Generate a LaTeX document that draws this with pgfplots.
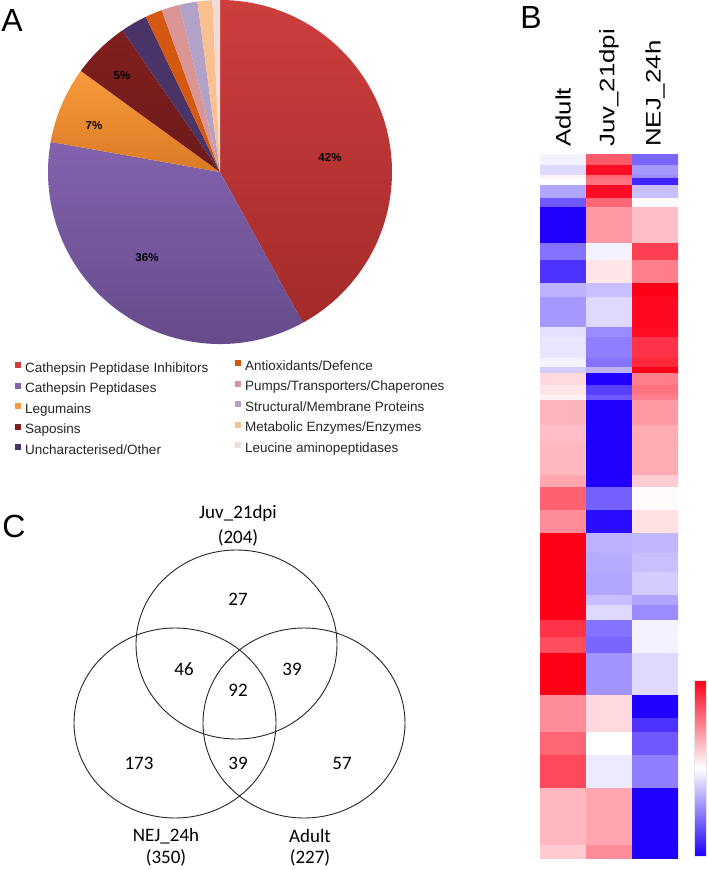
\documentclass[border=0pt]{standalone}
\usepackage{graphicx}
\usepackage{pgfplots}
\pgfplotsset{compat=1.18}
\usepackage{pgfplotstable}
\usepackage{fontspec}
\setmainfont{Liberation Sans}
\newfontfamily\venn{Carlito}

\definecolor{pRedT}{HTML}{CD3E3D}
\definecolor{pRedB}{HTML}{A32B2A}
\definecolor{pPurT}{HTML}{8262AE}
\definecolor{pPurB}{HTML}{634987}
\definecolor{pOrT}{HTML}{F89A3C}
\definecolor{pOrB}{HTML}{DA7A25}
\definecolor{pSapT}{HTML}{801F1F}
\definecolor{pSapB}{HTML}{6E1A1A}
\definecolor{pUnc}{HTML}{4A3366}
\definecolor{pAnt}{HTML}{D4580F}
\definecolor{pPump}{HTML}{DA9695}
\definecolor{pStr}{HTML}{B3A2C7}
\definecolor{pMet}{HTML}{FAC08F}
\definecolor{pLeu}{HTML}{F2DCDB}
\definecolor{legtxt}{HTML}{262626}

\pgfplotsset{colormap={bwr}{rgb255=(31,0,255) rgb255=(255,255,255) rgb255=(255,0,25)}}

\pgfplotstableread{
pct top bot
42.0 pRedT pRedB
35.8 pPurT pPurB
7.2 pOrT pOrB
5.4 pSapT pSapB
2.5 pUnc pUnc
1.6 pAnt pAnt
1.7 pPump pPump
1.7 pStr pStr
1.4 pMet pMet
0.7 pLeu pLeu
}\piedata
\pgfplotstablecreatecol[expr accum={\pgfmathaccuma + \thisrow{pct}}{0}]{cum}\piedata

% heatmap: band boundaries (pixel rows, negated) and values for Adult, Juv_21dpi, NEJ_24h
\pgfplotstableread{
x y c
0 -154 -0.05
1 -154 0.65
2 -154 -0.6
3 -154 -0.6

0 -165 -0.15
1 -165 0.95
2 -165 -0.4
3 -165 -0.4

0 -175 0.05
1 -175 0.6
2 -175 -0.45
3 -175 -0.45

0 -178 0.0
1 -178 0.55
2 -178 -0.85
3 -178 -0.85

0 -185 -0.35
1 -185 0.95
2 -185 -0.25
3 -185 -0.25

0 -198 -0.65
1 -198 0.6
2 -198 0.02
3 -198 0.02

0 -207 -1.0
1 -207 0.4
2 -207 0.25
3 -207 0.25

0 -243 -0.55
1 -243 -0.05
2 -243 0.75
3 -243 0.75

0 -260 -0.8
1 -260 0.1
2 -260 0.5
3 -260 0.5

0 -283 -0.3
1 -283 -0.25
2 -283 1.0
3 -283 1.0

0 -297 -0.4
1 -297 -0.15
2 -297 0.97
3 -297 0.97

0 -327 -0.12
1 -327 -0.45
2 -327 0.95
3 -327 0.95

0 -337 -0.1
1 -337 -0.5
2 -337 0.8
3 -337 0.8

0 -358 -0.05
1 -358 -0.55
2 -358 0.85
3 -358 0.85

0 -367 -0.2
1 -367 -0.3
2 -367 1.0
3 -367 1.0

0 -373 0.15
1 -373 -1.0
2 -373 0.5
3 -373 0.5

0 -385 0.1
1 -385 -0.75
2 -385 0.55
3 -385 0.55

0 -395 0.05
1 -395 -0.65
2 -395 0.5
3 -395 0.5

0 -400 0.3
1 -400 -1.0
2 -400 0.4
3 -400 0.4

0 -425 0.25
1 -425 -1.0
2 -425 0.33
3 -425 0.33

0 -442 0.28
1 -442 -1.0
2 -442 0.33
3 -442 0.33

0 -475 0.35
1 -475 -1.0
2 -475 0.2
3 -475 0.2

0 -487 0.62
1 -487 -0.62
2 -487 0.02
3 -487 0.02

0 -510 0.45
1 -510 -0.95
2 -510 0.12
3 -510 0.12

0 -533 1.0
1 -533 -0.3
2 -533 -0.28
3 -533 -0.28

0 -553 1.0
1 -553 -0.33
2 -553 -0.25
3 -553 -0.25

0 -572 1.0
1 -572 -0.35
2 -572 -0.2
3 -572 -0.2

0 -595 1.0
1 -595 -0.25
2 -595 -0.35
3 -595 -0.35

0 -605 1.0
1 -605 -0.15
2 -605 -0.45
3 -605 -0.45

0 -620 0.8
1 -620 -0.55
2 -620 -0.05
3 -620 -0.05

0 -637 0.7
1 -637 -0.6
2 -637 -0.05
3 -637 -0.05

0 -653 1.0
1 -653 -0.42
2 -653 -0.15
3 -653 -0.15

0 -695 0.45
1 -695 0.15
2 -695 -1.0
3 -695 -1.0

0 -718 0.45
1 -718 0.15
2 -718 -0.8
3 -718 -0.8

0 -732 0.6
1 -732 0.0
2 -732 -0.65
3 -732 -0.65

0 -755 0.72
1 -755 -0.08
2 -755 -0.5
3 -755 -0.5

0 -788 0.28
1 -788 0.35
2 -788 -1.0
3 -788 -1.0

0 -845 0.2
1 -845 0.45
2 -845 -1.0
3 -845 -1.0

0 -858 0
1 -858 0
2 -858 0
3 -858 0
}\heatdata

\pgfplotstableread{
x y n
238 -599 27
184 -669 46
292 -669 39
238 -690 92
139 -763 173
238 -763 39
342 -763 57
}\venndata

\begin{document}
\begin{tikzpicture}
\path[use as bounding box] (0,0) rectangle (709pt,-870pt);

% panel letters
\node[font=\fontsize{32}{32}\selectfont, inner sep=0pt] at (12pt,-20pt) {A};
\node[font=\fontsize{32}{32}\selectfont, inner sep=0pt] at (531pt,-17pt) {B};
\node[font=\fontsize{32}{32}\selectfont, inner sep=0pt] at (14pt,-526pt) {C};

% ---------- A: pie ----------
\begin{axis}[at={(48pt,-344pt)}, anchor=south west, scale only axis,
  width=344pt, height=344pt, xmin=-172, xmax=172, ymin=-172, ymax=172,
  hide axis, clip=false]
\pgfplotsinvokeforeach{0,...,9}{%
  \pgfplotstablegetelem{#1}{pct}\of\piedata \let\pct\pgfplotsretval
  \pgfplotstablegetelem{#1}{cum}\of\piedata \let\cum\pgfplotsretval
  \pgfplotstablegetelem{#1}{top}\of\piedata \let\ctop\pgfplotsretval
  \pgfplotstablegetelem{#1}{bot}\of\piedata \let\cbot\pgfplotsretval
  \pgfmathsetmacro\aend{90-3.6*\cum}%
  \pgfmathsetmacro\astart{\aend+3.6*\pct}%
  \edef\doslice{\noexpand\shade[top color=\ctop, bottom color=\cbot] (axis cs:0,0) -- (axis cs:{172*cos(\astart)},{172*sin(\astart)}) arc[start angle=\astart, end angle=\aend, radius=172pt] -- cycle;}%
  \doslice
}
\node[font=\bfseries\fontsize{11.5}{12}\selectfont] at (axis cs:110,14) {42\%};
\node[font=\bfseries\fontsize{11.5}{12}\selectfont] at (axis cs:-73,-86) {36\%};
\node[font=\bfseries\fontsize{11.5}{12}\selectfont] at (axis cs:-126,46) {7\%};
\node[font=\bfseries\fontsize{11.5}{12}\selectfont] at (axis cs:-98,96) {5\%};
\end{axis}

% legend
\begin{scope}[x=1pt, y=1pt, every node/.style={font=\fontsize{13.5}{14}\selectfont, text=legtxt, anchor=base west, inner sep=0pt}]
\foreach \c/\t [count=\i from 0] in {pRedT/{Cathepsin Peptidase Inhibitors}, pPurT/{Cathepsin Peptidases}, pOrT/{Legumains}, pSapT/{Saposins}, pUnc/{Uncharacterised/Other}}{
  \pgfmathsetmacro\yy{-(367+20.5*\i)}
  \fill[\c] (15,{\yy-1}) rectangle (21,{\yy+5});
  \node at (25,{\yy-5}) {\t};
}
\foreach \c/\t [count=\i from 0] in {pAnt/{Antioxidants/Defence}, pPump/{Pumps/Transporters/Chaperones}, pStr/{Structural/Membrane Proteins}, pMet/{Metabolic Enzymes/Enzymes}, pLeu/{Leucine aminopeptidases}}{
  \pgfmathsetmacro\yy{-(365+20.5*\i)}
  \fill[\c] (235,{\yy-1}) rectangle (241,{\yy+5});
  \node at (245,{\yy-5}) {\t};
}
\end{scope}

% ---------- B: heatmap ----------
\begin{axis}[at={(540pt,-858pt)}, anchor=south west, scale only axis,
  width=138pt, height=704pt, xmin=0, xmax=3, ymin=-858, ymax=-154,
  axis line style={draw=none}, ytick=\empty,
  xtick={0.5,1.5,2.5},
  xticklabels={\scalebox{1.23}[1]{Adult},\scalebox{1.23}[1]{Juv\_21dpi},\scalebox{1.23}[1]{NEJ\_24h}},
  xticklabel pos=upper, major tick length=0pt,
  xticklabel style={rotate=90, anchor=west, inner sep=0pt, font=\fontsize{21}{21}\selectfont},
  xticklabel shift=7pt,
  colormap name=bwr, point meta min=-1, point meta max=1,
  colorbar,
  colorbar style={scale only axis, at={(parent axis.south east)}, anchor=south west,
    xshift=8pt, yshift=2pt, width=12pt, height=176pt,
    ytick=\empty, axis line style={draw=black!10, line width=0.4pt}}]
\addplot[surf, shader=flat corner, mesh/cols=4, point meta=explicit] table[x=x, y=y, meta=c] {\heatdata};
\end{axis}

% ---------- C: Venn ----------
\begin{axis}[at={(60pt,-870pt)}, anchor=south west, scale only axis,
  width=360pt, height=370pt, xmin=60, xmax=420, ymin=-870, ymax=-500,
  hide axis, clip=false]
\draw[black!85, line width=0.9pt] (axis cs:236.5,-644.5) ellipse [x radius=100.5pt, y radius=94.5pt];
\draw[black!85, line width=0.9pt] (axis cs:175,-723) ellipse [x radius=101pt, y radius=95pt];
\draw[black!85, line width=0.9pt] (axis cs:304,-723) ellipse [x radius=101pt, y radius=95pt];
\addplot[draw=none, mark=none, nodes near coords, point meta=explicit symbolic,
  nodes near coords align=center,
  every node near coord/.style={font=\venn\fontsize{19}{20}\selectfont, anchor=center, inner sep=0pt}]
  table[x=x, y=y, meta=n] {\venndata};
\node[font=\venn\fontsize{19}{20}\selectfont] at (axis cs:238,-513) {Juv\_21dpi};
\node[font=\venn\fontsize{19}{20}\selectfont] at (axis cs:238,-538) {(204)};
\node[font=\venn\fontsize{19}{20}\selectfont] at (axis cs:166,-836) {NEJ\_24h};
\node[font=\venn\fontsize{19}{20}\selectfont] at (axis cs:166,-858) {(350)};
\node[font=\venn\fontsize{19}{20}\selectfont] at (axis cs:310,-836) {Adult};
\node[font=\venn\fontsize{19}{20}\selectfont] at (axis cs:310,-858) {(227)};
\end{axis}
\end{tikzpicture}
\end{document}
